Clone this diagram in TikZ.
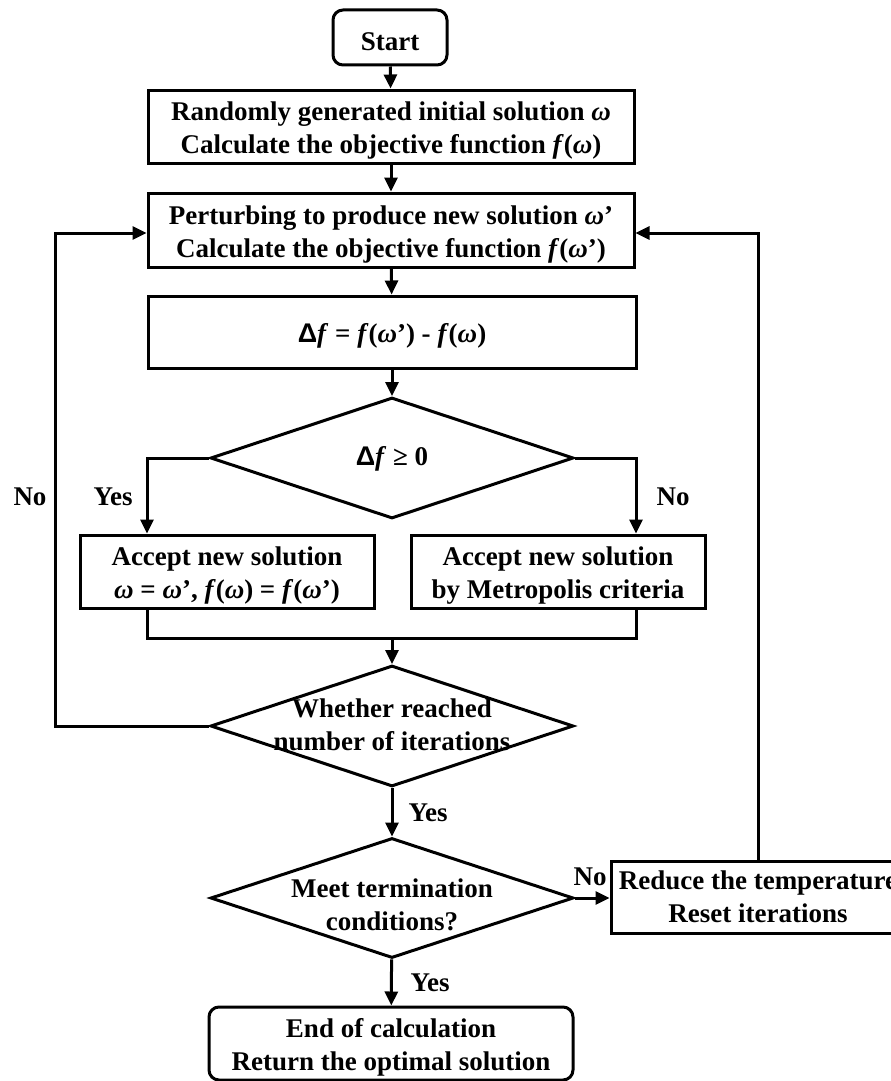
\documentclass[tikz,border=0pt]{standalone}
\usepackage{fontspec}
\setmainfont{Liberation Serif}
\newfontfamily\deltafont{Liberation Sans}
\usetikzlibrary{arrows.meta,shapes.geometric}
\newcommand{\myom}{\textit{ω}}
\newcommand{\myf}{\textit{f}}
\newcommand{\mydelta}{{\deltafont\bfseries Δ}}
\newcommand{\myup}{\rule{0pt}{27pt}}
\begin{document}
\begin{tikzpicture}[x=1pt,y=-1pt,
  every node/.style={font=\fontsize{27}{33}\selectfont\bfseries, align=center, inner sep=0pt},
  box/.style={draw, line width=3pt, minimum width=#1, minimum height=73pt},
  rbox/.style={box=#1, rounded corners=10pt},
  dia/.style={draw, diamond, line width=3pt, minimum width=363pt, minimum height=121pt},
  conn/.style={line width=3pt},
  arr/.style={conn, -{Triangle[length=14pt,width=13pt]}},
  lbl/.style={font=\fontsize{27}{33}\selectfont\bfseries}
]
\useasboundingbox (0,0) rectangle (891,1081);
\clip (0,0) rectangle (891,1081);

\node[rbox=114pt, minimum height=55pt] (start) at (390,37.5) {\myup Start};
\node[box=486pt] (b1) at (391,126.5) {\myup Randomly generated initial solution \myom\\Calculate the objective function \myf(\myom)};
\node[box=486pt, minimum height=74pt] (b2) at (391,230) {\myup Perturbing to produce new solution \myom’\\Calculate the objective function \myf(\myom’)};
\node[box=488pt, minimum height=72pt] (b3) at (392,332) {\myup\mydelta\myf\ = \myf(\myom’) - \myf(\myom)};
\node[dia] (d1) at (392,458) {};
\node (t1) at (392,459) {\mydelta\myf\ ≥ 0};
\node[box=294pt] (b4) at (227,571.5) {\myup Accept new solution\\\myom\ = \myom’, \myf(\myom) = \myf(\myom’)};
\node[box=294pt] (b5) at (558,571.5) {\myup Accept new solution\\by Metropolis criteria};
\node[dia] (d2) at (392,726) {};
\node (t2) at (392,725) {Whether reached\\number of iterations};
\node[dia, minimum height=120pt] (d3) at (392,898) {};
\node (t3) at (392,905) {Meet termination\\conditions?};
\node[box=294pt, minimum height=72pt] (b6) at (758,897) {Reduce the temperature\\Reset iterations};
\node[rbox=364pt] (end) at (391,1043.5) {\myup End of calculation\\Return the optimal solution};

\coordinate (lx) at (55,0);
\coordinate (m) at (392,638);

\draw[arr] (start) -- (b1);
\draw[arr] (b1) -- (b2);
\draw[arr] (b2) -- (b3);
\draw[arr] (b3) -- (d1);
\draw[arr] (d1.west) -| ([xshift=-80pt]b4.north);
\draw[arr] (d1.east) -| ([xshift=78pt]b5.north);
\draw[conn] ([xshift=-80pt]b4.south) |- (m) -| ([xshift=78pt]b5.south);
\draw[arr] (m) -- (d2);
\draw[arr] (d2.west) -- (d2.west -| lx) |- ([yshift=-3pt]b2.west);
\draw[arr] (d2) -- (d3);
\draw[arr] (d3.east) -- (d3.east -| b6.west);
\draw[arr] (b6.north) |- ([yshift=-3pt]b2.east);
\draw[arr] (d3) -- (end);

\node[lbl] (yes1) at (113,497) {Yes};
\node[lbl] (no1) at (30,497) {No};
\node[lbl] (no2) at (673,497) {No};
\node[lbl] (yes2) at (428,813) {Yes};
\node[lbl] (no3) at (590,877) {No};
\node[lbl] (yes3) at (430,983) {Yes};
\end{tikzpicture}
\end{document}
